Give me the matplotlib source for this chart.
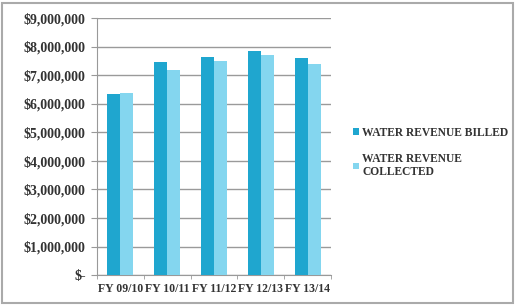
import matplotlib.pyplot as plt
import numpy as np
from matplotlib.ticker import FuncFormatter
from matplotlib.patches import Rectangle

years = ["FY 09/10", "FY 10/11", "FY 11/12", "FY 12/13", "FY 13/14"]
billed = [6330000, 7470000, 7620000, 7830000, 7610000]
collected = [6370000, 7170000, 7500000, 7700000, 7380000]

plt.rcParams['font.family'] = ['Liberation Serif', 'DejaVu Serif']

fig = plt.figure(figsize=(5.15, 3.05), dpi=100)
ax = fig.add_axes([0.188, 0.098, 0.455, 0.843])

x = np.arange(len(years))
w = 0.28
ax.bar(x - w / 2, billed, w, color='#1fa6cf', label='WATER REVENUE BILLED', zorder=3)
ax.bar(x + w / 2, collected, w, color='#84d6ef', label='WATER REVENUE\nCOLLECTED', zorder=3)

ax.set_ylim(0, 9000000)
ax.set_xlim(-0.5, len(years) - 0.5)
ax.set_yticks(np.arange(0, 9000001, 1000000))
ax.yaxis.set_major_formatter(FuncFormatter(lambda v, p: "$-" if v == 0 else "${:,.0f}".format(v)))
ax.set_xticks(x)
ax.set_xticklabels(years)
ax.set_xticks(np.arange(-0.5, len(years), 1), minor=True)
ax.tick_params(axis='x', which='major', length=0, pad=6)
ax.tick_params(axis='x', which='minor', length=3, color='#999999')
ax.tick_params(axis='y', length=4, color='#999999', pad=4)
for lab in ax.get_yticklabels():
    lab.set_fontsize(10)
    lab.set_fontweight('bold')
    lab.set_color('#333333')
for lab in ax.get_xticklabels():
    lab.set_fontsize(8.5)
    lab.set_fontweight('bold')
    lab.set_color('#333333')

ax.grid(axis='y', color='#9a9a9a', linewidth=1, zorder=0)
for s in ['top', 'right']:
    ax.spines[s].set_visible(False)
ax.spines['left'].set_color('#999999')
ax.spines['bottom'].set_color('#999999')

leg = fig.legend(loc='center left', bbox_to_anchor=(0.665, 0.5), frameon=False,
                 prop={'weight': 'bold', 'size': 8.3}, handlelength=0.5, handleheight=0.5,
                 handletextpad=0.3, labelspacing=1.2)
for t in leg.get_texts():
    t.set_color('#333333')

fig.patches.append(Rectangle((0.004, 0.006), 0.992, 0.985, transform=fig.transFigure,
                             fill=False, edgecolor='#aaaaaa', linewidth=1.5))

fig.savefig('out.png', dpi=100)
